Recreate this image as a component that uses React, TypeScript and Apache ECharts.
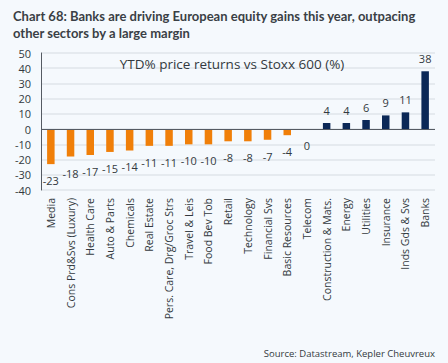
import React, { useEffect, useRef } from "react";
import * as echarts from "echarts";

const categories = [
  "Media",
  "Cons Prd&Svs (Luxury)",
  "Health Care",
  "Auto & Parts",
  "Chemicals",
  "Real Estate",
  "Pers. Care, Drg/Groc Strs",
  "Travel & Leis",
  "Food Bev Tob",
  "Retail",
  "Technology",
  "Financial Svs",
  "Basic Resources",
  "Telecom",
  "Construction & Mats.",
  "Energy",
  "Utilities",
  "Insurance",
  "Inds Gds & Svs",
  "Banks",
];
const values = [-23, -18, -17, -15, -14, -11, -11, -10, -10, -8, -8, -7, -4, 0, 4, 4, 6, 9, 11, 38];

const titleText = "Chart 68: Banks are driving European equity gains this year, outpacing\nother sectors by a large margin";
const subtitleText = "YTD% price returns vs Stoxx 600 (%)";
const sourceText = "Source: Datastream, Kepler Cheuvreux";

const ORANGE = "#F07F09";
const NAVY = "#0B2857";
const TEXT = "#333940";
const FONT = "'Open Sans', 'Noto Sans', sans-serif";

export default function App() {
  const ref = useRef<HTMLDivElement>(null);
  useEffect(() => {
    if (!ref.current) return;
    const chart = echarts.init(ref.current, null, { renderer: "svg" });
    chart.setOption({
      animation: false,
      backgroundColor: "#F5F9FD",
      textStyle: { fontFamily: FONT },
      title: [
        {
          text: titleText,
          left: 8,
          top: 2,
          textStyle: { fontFamily: "Lato, sans-serif", fontSize: 13, fontWeight: "bold", color: "#3a3f45", lineHeight: 17 },
        },
        {
          text: subtitleText,
          left: 227,
          textAlign: "center",
          top: 52,
          textStyle: { fontFamily: FONT, fontSize: 13.5, fontWeight: "normal", color: TEXT },
        },
        {
          text: sourceText,
          right: 8,
          top: 343,
          textStyle: { fontFamily: FONT, fontSize: 9.5, fontWeight: "normal", color: TEXT },
        },
      ],
      grid: { left: 41, right: 13, top: 53, bottom: 173, containLabel: false },
      xAxis: {
        type: "category",
        data: categories,
        axisLine: { show: false, onZero: false },
        axisTick: { show: false },
        axisLabel: { rotate: 90, fontSize: 10.5, color: TEXT, margin: 8, interval: 0, fontFamily: FONT },
      },
      yAxis: {
        type: "value",
        min: -40,
        max: 50,
        interval: 10,
        axisLine: { show: true, lineStyle: { color: "#555b63", width: 1 } },
        axisTick: { show: false },
        axisLabel: { fontSize: 11, color: TEXT, margin: 10, fontFamily: FONT },
        splitLine: { show: true, lineStyle: { color: "#dfe4ea", width: 1.5 } },
      },
      series: [
        {
          type: "bar",
          barWidth: 7.5,
          data: values.map((v) => ({
            value: v,
            itemStyle: { color: v > 0 ? NAVY : ORANGE },
            label: {
              show: true,
              position: v > 0 ? "top" : "bottom",
              distance: v > 0 ? 7 : 11,
              fontSize: 11,
              color: TEXT,
              fontFamily: FONT,
            },
          })),
          markLine: {
            silent: true,
            symbol: "none",
            label: { show: false },
            lineStyle: { color: "#555b63", type: "solid", width: 1.2 },
            data: [{ yAxis: 0 }],
          },
        },
      ],
    });
    return () => chart.dispose();
  }, []);
  return <div ref={ref} style={{ position: "fixed", left: 0, top: 0, width: 448, height: 363 }} />;
}
